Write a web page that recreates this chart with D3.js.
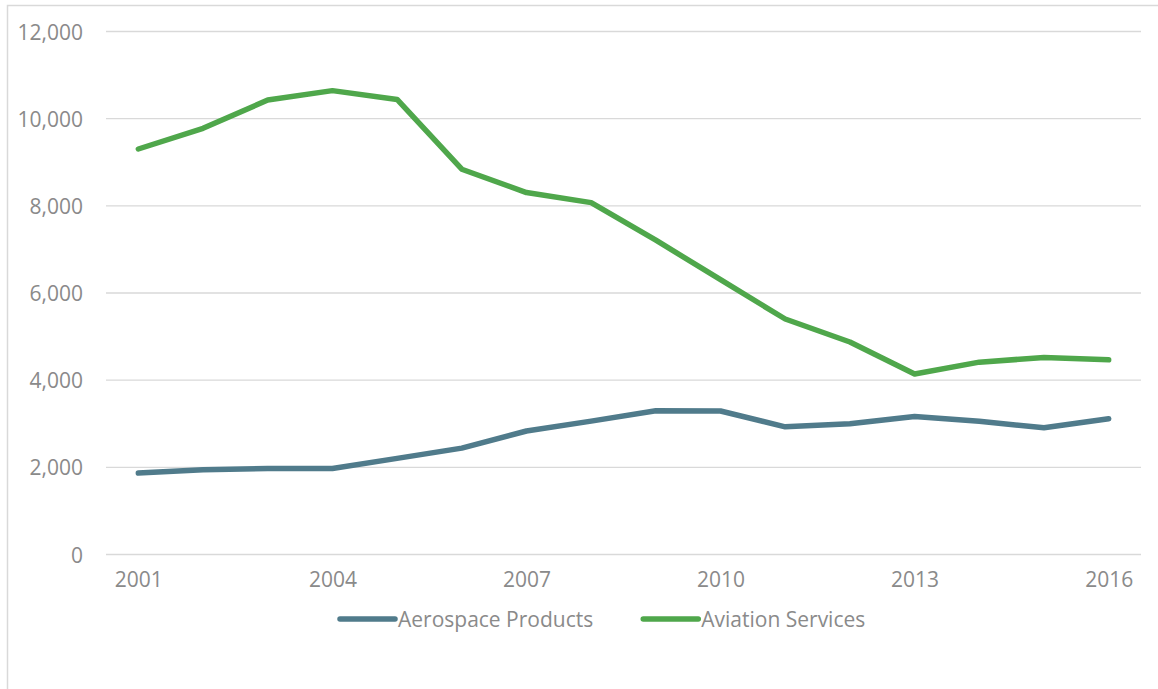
<!DOCTYPE html>
<html>
<head>
<meta charset="utf-8">
<script src="https://cdn.jsdelivr.net/npm/d3@7"></script>
<style>
  html, body { margin: 0; padding: 0; background: #ffffff; }
  svg { display: block; font-family: "Open Sans", "Noto Sans", sans-serif; }
</style>
</head>
<body>
<svg id="chart" width="1158" height="689"></svg>
<script>
const years = [2001,2002,2003,2004,2005,2006,2007,2008,2009,2010,2011,2012,2013,2014,2015,2016];
const aerospaceProducts = [1868,1942,1973,1975,2205,2440,2834,3060,3300,3292,2930,3000,3168,3055,2908,3115];
const aviationServices = [9304,9778,10428,10643,10440,8840,8305,8073,7212,6305,5403,4875,4143,4413,4520,4467];
const seriesNames = ["Aerospace Products", "Aviation Services"];
const seriesColors = ["#507b8b", "#4fa74b"];
const yTicks = [0,2000,4000,6000,8000,10000,12000];
const xTickLabels = [2001,2004,2007,2010,2013,2016];

const svg = d3.select("#chart");
const W = 1158, H = 689;

// outer chart border (left and top visible)
svg.append("rect")
  .attr("x", 7.5).attr("y", 5.5)
  .attr("width", W + 10).attr("height", H + 10)
  .attr("fill", "none").attr("stroke", "#d9d9d9").attr("stroke-width", 1.5);

const plotL = 106, plotR = 1141, plotT = 31.5, plotB = 554.5;

const x = d3.scalePoint().domain(years).range([plotL, plotR]).padding(0.5);
const y = d3.scaleLinear().domain([0, 12000]).range([plotB, plotT]);

// gridlines
svg.append("g").selectAll("line").data(yTicks).join("line")
  .attr("x1", plotL).attr("x2", plotR)
  .attr("y1", d => y(d)).attr("y2", d => y(d))
  .attr("stroke", "#d9d9d9").attr("stroke-width", 1.3);

// y axis labels
const yAxis = d3.axisLeft(y).tickValues(yTicks).tickFormat(d3.format(",")).tickSize(0).tickPadding(0);
const gy = svg.append("g").attr("transform", `translate(83,0)`).call(yAxis);
gy.select(".domain").remove();
gy.selectAll("text").attr("fill", "#8a8a8a").style("font-size", "21px")
  .style("font-family", "'Open Sans', sans-serif").attr("dy", "0.36em");

// x axis labels
const xAxis = d3.axisBottom(x).tickValues(xTickLabels).tickFormat(d => String(d)).tickSize(0).tickPadding(0);
const gx = svg.append("g").attr("transform", `translate(0,${plotB + 18})`).call(xAxis);
gx.select(".domain").remove();
gx.selectAll("text").attr("fill", "#8a8a8a").style("font-size", "21px")
  .style("font-family", "'Open Sans', sans-serif").attr("dy", "0.71em");

// lines
const seriesData = [aerospaceProducts, aviationServices];
const line = d3.line().x((d, i) => x(years[i])).y(d => y(d));
svg.append("g").selectAll("path").data(seriesData).join("path")
  .attr("d", d => line(d))
  .attr("fill", "none")
  .attr("stroke", (d, i) => seriesColors[i])
  .attr("stroke-width", 5.5)
  .attr("stroke-linejoin", "round")
  .attr("stroke-linecap", "round");

// legend
const legend = svg.append("g");
const legendY = 619;
let cx = 340;
seriesNames.forEach((name, i) => {
  const g = legend.append("g");
  g.append("line")
    .attr("x1", cx).attr("x2", cx + 55)
    .attr("y1", legendY).attr("y2", legendY)
    .attr("stroke", seriesColors[i]).attr("stroke-width", 5.5).attr("stroke-linecap", "round");
  const t = g.append("text")
    .attr("x", cx + 58).attr("y", legendY).attr("dy", "0.36em")
    .attr("fill", "#8a8a8a").style("font-size", "21px")
    .text(name);
  const w = t.node().getComputedTextLength();
  cx = cx + 58 + w + 50;
});
</script>
</body>
</html>
